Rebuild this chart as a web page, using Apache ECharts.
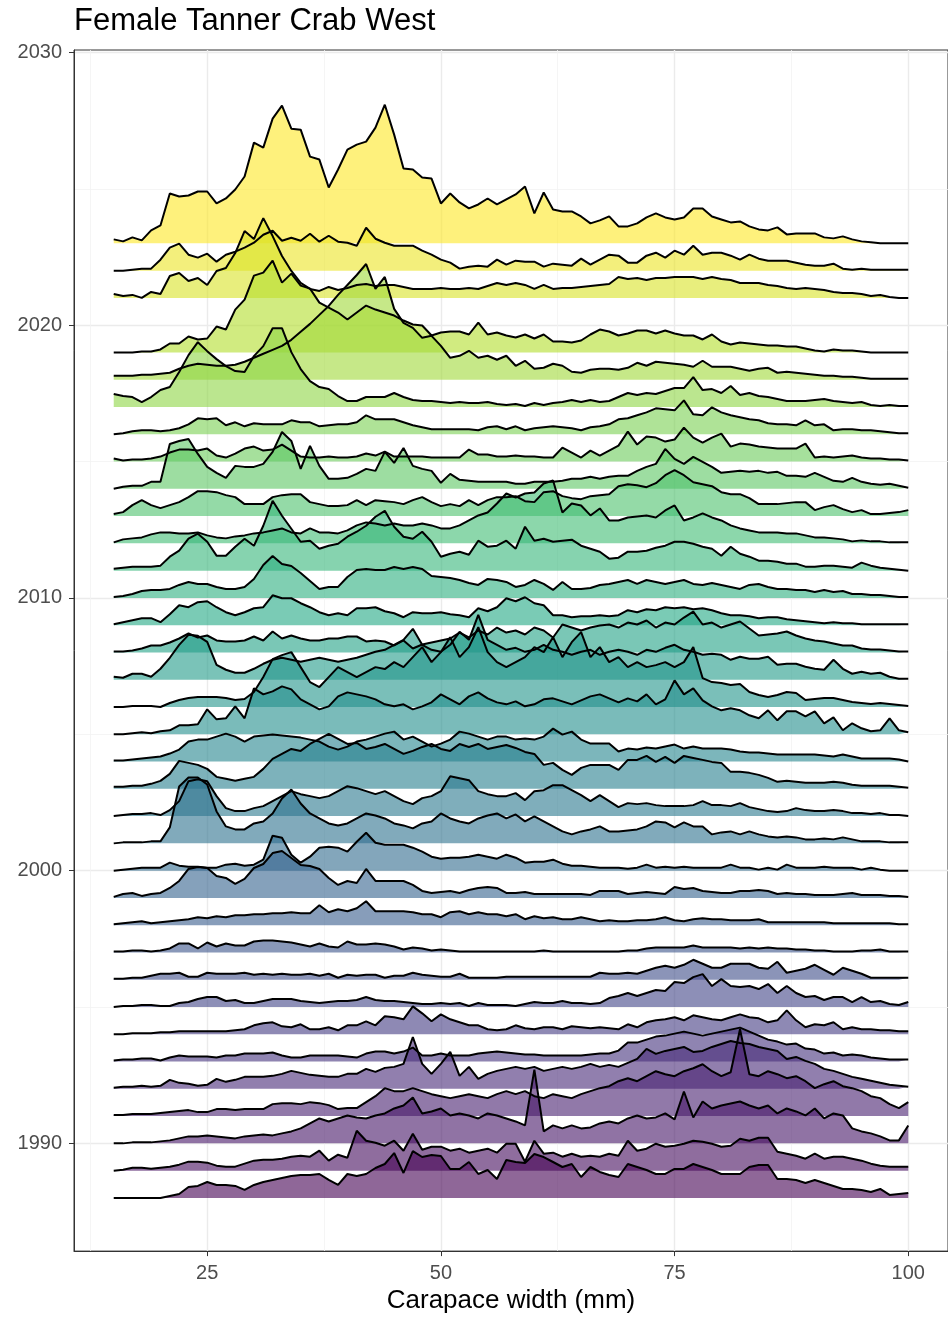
<!DOCTYPE html>
<html><head><meta charset="utf-8">
<script src="https://cdn.jsdelivr.net/npm/echarts@6/dist/echarts.min.js"></script>
<style>html,body{margin:0;padding:0;background:#fff}#c{width:948px;height:1319px}</style>
</head><body><div id="c"></div>
<script>
// Carapace width bins (mm)
const widths = [15,16,17,18,19,20,21,22,23,24,25,26,27,28,29,30,31,32,33,34,35,36,37,38,39,40,41,42,43,44,45,46,47,48,49,50,51,52,53,54,55,56,57,58,59,60,61,62,63,64,65,66,67,68,69,70,71,72,73,74,75,76,77,78,79,80,81,82,83,84,85,86,87,88,89,90,91,92,93,94,95,96,97,98,99,100];
const xTicks = [25,50,75,100];
const xMinor = [12.5,37.5,62.5,87.5];
const yTicks = [1990,2000,2010,2020,2030];
const yMinor = [1995,2005,2015,2025];

// Relative density heights per survey year (one value per 1 mm bin)
const h2023 = [4,2,6,3,13,18,50,47,48,52, 52,40,45,54,67,101,96,125,138,115, 114,87,84,56,74,94,99,102,116,139, 109,75,74,66,65,40,50,41,35,39, 45,39,44,49,57,30,51,34,32,32, 27,20,23,27,17,17,20,26,30,26, 24,26,35,35,27,24,21,22,17,14, 13,16,9,10,10,10,6,5,7,4, 2,1,0,0,0,0];
const h2022 = [0,0,1,2,2,11,23,27,16,13, 17,9,16,19,23,28,36,40,30,33, 30,37,29,35,29,28,25,43,32,28, 25,25,25,20,16,11,8,2,4,5, 4,11,6,10,9,9,4,7,6,5, 12,6,11,16,15,8,8,15,18,13, 20,16,25,16,18,18,15,11,16,12, 10,10,10,8,6,5,5,7,2,1, 2,1,1,1,1,1];
const h2021 = [4,2,3,0,6,4,22,25,17,20, 13,27,30,45,67,59,80,62,42,27, 15,9,7,11,8,10,13,14,12,13, 13,11,9,9,9,10,9,9,10,9, 12,15,13,15,13,9,13,9,10,10, 11,12,13,14,21,19,20,18,20,20, 21,21,21,19,21,19,18,15,15,15, 13,12,10,9,10,9,8,6,5,5, 4,2,3,1,0,0];
const h2019 = [0,0,0,1,1,3,9,9,16,13, 14,26,23,43,53,77,80,92,70,79, 67,64,50,45,40,33,40,47,43,40, 37,32,28,27,17,20,21,21,18,30, 18,20,17,15,18,14,18,11,11,10, 12,18,23,21,17,19,22,22,19,22, 19,17,17,13,18,11,8,10,9,8, 7,7,6,6,4,2,1,3,2,2, 1,0,0,0,0,0];
const h2018 = [4,4,4,5,5,6,7,11,14,16, 15,14,14,15,18,22,26,30,34,40, 48,56,65,74,85,95,105,116,91,103, 71,57,52,42,44,34,22,24,29,22, 24,20,24,14,19,11,12,16,14,8, 7,10,11,11,10,12,17,14,18,17, 16,15,13,19,13,13,13,11,9,11, 12,7,8,7,6,5,4,4,3,3, 2,1,1,1,1,1];
const h2017 = [13,11,10,5,10,17,20,35,52,65, 56,48,41,36,35,51,61,79,79,55, 38,26,20,18,11,6,6,10,10,10, 14,10,7,6,6,5,4,5,4,4, 5,3,2,3,1,4,2,4,5,7, 5,7,5,6,10,14,12,14,13,16, 19,19,30,17,18,14,21,12,14,11, 10,8,6,6,6,7,8,6,5,4, 5,2,1,2,1,1];
const h2016 = [0,1,3,4,4,3,4,6,10,16, 15,16,9,12,8,11,10,10,10,14, 12,12,8,9,10,10,12,19,15,15, 15,12,9,7,5,5,5,5,5,4, 7,8,5,8,4,6,7,8,7,6, 4,7,8,10,15,16,19,22,26,25, 24,34,20,19,27,22,19,17,15,14, 11,10,10,9,14,9,10,4,5,5, 4,4,3,2,1,1];
const h2015 = [3,1,2,2,3,5,9,12,12,11, 13,6,4,8,13,15,11,12,17,11, 5,4,4,5,4,4,5,8,6,10, 5,5,5,5,4,4,4,4,12,7, 7,5,5,6,5,5,4,4,14,9, 4,11,6,11,16,30,17,25,24,20, 22,34,24,19,24,28,15,18,17,15, 14,13,13,13,18,4,5,4,5,6, 4,3,3,2,2,1];
const h2014 = [0,2,3,3,7,7,45,48,50,35, 22,16,11,23,22,22,25,37,57,48, 20,43,23,10,10,11,15,20,18,37, 26,41,23,20,18,6,15,9,8,7, 7,7,7,5,5,7,7,7,8,10, 10,12,10,12,13,13,18,22,25,40, 30,25,32,27,22,16,17,18,17,18, 16,17,13,13,12,16,12,8,7,11, 7,5,4,5,3,1];
const h2013 = [2,4,11,16,11,8,11,14,19,25, 25,24,21,19,12,12,12,19,21,22, 22,14,12,10,10,11,16,11,16,15, 14,12,16,19,14,10,12,10,16,11, 16,19,19,20,15,14,24,25,20,18, 17,20,21,22,30,32,31,29,33,41, 46,41,34,32,30,24,22,22,18,12, 12,12,13,14,14,6,9,11,7,4, 6,2,2,3,4,6];
const h2012 = [1,4,5,6,9,11,11,10,10,11, 8,6,5,7,8,10,11,13,15,11, 10,15,11,11,10,13,18,21,20,18, 20,18,18,20,18,15,15,18,23,28, 31,40,50,46,50,51,60,63,31,40, 38,28,35,23,23,26,27,28,26,33, 38,23,26,30,26,23,18,15,13,11, 11,11,10,10,8,6,6,5,4,2, 3,2,2,1,1,1];
const h2011 = [2,3,4,4,4,5,14,20,32,37, 29,15,15,24,32,25,45,70,55,42, 29,30,22,25,27,34,39,45,54,60, 44,34,32,39,29,14,17,19,16,30, 24,25,30,22,44,30,32,29,30,31, 25,22,19,12,13,19,19,20,23,25, 29,29,27,24,22,15,24,17,14,10, 10,9,7,7,4,4,5,5,4,3, 8,5,3,2,1,0];
const h2010 = [1,2,4,7,8,8,9,13,16,14, 14,11,9,9,11,19,33,42,34,32, 25,17,9,11,11,21,28,29,28,28, 31,29,31,29,22,21,20,18,15,13, 19,18,16,11,13,18,14,8,16,9, 9,10,13,14,16,18,14,18,16,14, 16,18,14,13,15,13,11,9,13,14, 11,9,9,8,8,6,8,6,7,4, 4,3,3,2,1,1];
const h2009 = [1,3,5,7,7,3,11,20,18,23, 24,18,13,10,13,17,18,30,27,27, 22,18,13,10,12,10,17,17,18,14, 12,8,13,12,12,13,11,10,8,17, 14,18,27,24,28,22,20,10,10,8, 9,9,10,9,10,15,13,16,15,18, 17,18,16,17,15,12,10,10,9,7, 8,8,6,5,4,3,2,3,2,2, 1,1,1,1,1,1];
const h2008 = [1,1,2,4,7,7,10,14,19,15, 17,12,11,11,12,16,12,21,14,17, 14,12,12,14,14,16,16,11,12,11, 7,12,4,8,10,12,14,20,15,22, 18,25,20,22,18,25,22,15,28,25, 22,25,27,28,25,30,28,32,25,30, 28,35,41,28,30,25,28,31,24,17, 18,19,21,17,14,12,11,9,7,7, 4,3,3,2,1,1];
const h2007 = [3,2,6,6,3,11,22,35,45,44, 38,15,10,7,7,11,16,20,22,20, 18,20,22,20,18,20,22,25,28,30, 35,40,51,35,30,28,35,48,40,65, 40,35,30,32,28,30,35,30,28,25, 28,30,25,28,30,28,25,30,28,32, 35,30,28,25,26,25,20,23,21,21, 23,15,16,16,13,11,10,20,11,6, 8,6,7,3,1,1];
const h2006 = [0,0,1,1,1,0,4,7,9,10, 10,10,9,7,8,15,30,48,52,55, 40,25,20,30,40,35,30,35,40,38, 45,40,50,60,45,55,70,50,60,80, 55,45,40,45,50,60,55,70,50,65, 75,50,60,45,50,40,45,40,42,45, 40,45,60,29,25,24,22,23,15,12, 10,12,15,14,7,8,9,9,7,5, 4,3,4,3,2,1];
const h2005 = [0,0,1,2,1,3,4,9,9,10, 25,15,16,28,16,46,40,43,48,45, 35,30,25,28,38,42,40,38,35,30, 28,30,25,28,32,40,35,30,38,42, 36,32,30,33,28,30,35,36,33,30, 34,38,40,36,32,36,33,40,30,35, 54,40,46,34,28,24,26,24,19,16, 24,14,23,23,18,23,11,17,4,11, 6,3,4,16,4,2];
const h2004 = [1,1,2,3,4,5,8,12,20,22, 22,25,28,25,20,25,26,27,26,25, 24,22,20,15,12,15,20,22,25,28, 30,22,25,20,15,18,22,30,28,25, 22,25,25,22,23,22,25,33,27,30, 22,18,18,18,10,13,12,14,13,15, 17,13,15,13,13,13,12,10,9,9, 8,7,7,7,7,7,6,5,7,5, 3,3,3,3,2,0];
const h2003 = [2,2,3,3,5,8,15,28,26,24, 20,12,10,8,10,12,20,30,35,40, 38,45,50,55,50,45,46,40,42,45, 40,35,38,42,45,40,38,45,42,45, 40,42,44,41,37,35,24,26,19,14, 21,24,24,24,19,29,29,33,27,32, 26,33,31,29,27,26,17,17,16,14, 11,7,8,7,6,6,6,7,6,4, 3,3,3,3,2,1];
const h2002 = [0,1,2,2,3,1,6,15,35,37, 35,20,8,5,5,8,10,15,20,25, 22,20,18,20,25,30,28,25,22,25, 20,15,12,18,20,25,40,38,36,25, 22,20,20,23,16,25,26,31,31,26, 21,15,21,15,9,13,12,13,11,10, 10,10,11,15,11,11,10,13,9,7, 5,4,5,8,6,5,5,6,5,3, 3,2,3,1,1,0];
const h2001 = [0,1,1,1,2,2,16,57,66,66, 59,32,17,14,14,20,22,30,45,54, 40,30,25,20,18,20,25,30,28,25, 20,18,15,20,22,30,25,22,20,25, 28,30,25,29,22,27,22,17,12,9, 12,14,17,12,12,13,14,17,22,21, 16,21,17,17,9,11,12,9,12,9, 7,6,7,6,4,4,5,4,6,4, 2,2,2,1,1,1];
const h2000 = [0,1,2,3,3,3,8,5,4,4, 3,3,6,7,5,6,11,35,33,16, 8,14,23,24,23,19,29,38,28,26, 26,26,23,19,14,12,13,13,14,16, 14,12,16,13,8,9,9,11,7,5, 5,4,3,3,3,2,3,6,3,4, 3,4,3,3,3,3,6,3,3,1, 3,1,6,3,3,3,4,3,3,3, 1,3,1,0,0,0];
const h1999 = [1,4,5,2,4,5,10,17,29,31, 30,22,20,14,19,30,34,45,47,40, 33,32,29,20,13,17,15,29,17,17, 17,17,13,7,5,6,7,5,8,10, 11,10,5,5,6,4,4,4,4,4, 4,3,7,7,7,4,5,6,5,4, 11,9,10,7,6,5,5,7,7,8, 7,4,5,4,4,3,3,3,4,5, 3,3,3,2,2,1];
const h1998 = [1,2,3,4,2,3,4,5,6,8, 7,9,8,10,10,11,11,12,12,13, 12,12,20,13,16,14,17,24,14,14, 14,14,13,11,11,8,13,14,11,13, 11,11,9,11,6,9,7,8,6,6, 8,6,4,5,4,4,5,5,6,8, 5,4,6,7,6,6,5,5,5,6, 3,3,3,3,3,3,3,2,2,2, 2,2,2,2,1,1];
const h1997 = [1,1,2,2,1,2,4,9,9,4, 10,6,9,7,7,11,12,12,11,10, 8,6,9,6,5,11,8,8,9,8, 6,3,5,4,2,3,2,1,1,1, 1,1,1,1,1,1,2,1,1,1, 1,1,1,1,1,2,2,4,5,5, 5,5,7,5,5,5,5,4,5,4, 5,4,4,3,3,2,2,1,1,1, 2,2,3,1,1,1];
const h1996 = [1,1,2,2,4,6,6,7,3,3, 7,6,6,6,7,5,6,5,6,5, 5,6,4,6,2,5,4,5,5,2, 4,4,7,5,4,3,3,6,2,2, 2,2,3,3,3,3,3,3,3,3, 3,3,7,6,6,7,6,9,12,14, 12,15,20,16,12,12,16,16,16,12, 11,18,7,9,11,15,10,5,12,9, 6,2,2,2,2,2];
const h1995 = [0,1,1,2,2,1,1,4,5,8, 10,10,6,7,4,4,6,8,8,8, 6,5,4,5,6,6,7,10,7,6, 6,5,4,3,3,4,3,4,1,4, 2,2,2,1,3,5,4,4,6,4, 4,3,4,9,11,14,11,14,17,16, 25,24,30,33,21,28,21,20,21,18, 23,14,21,14,10,11,7,10,10,5, 10,5,6,3,2,5];
const h1994 = [0,0,1,1,1,2,2,3,3,3, 3,3,3,4,5,9,11,12,8,7, 10,5,5,7,4,9,9,13,9,18, 17,15,28,21,13,20,15,12,9,9, 5,4,5,9,6,5,7,7,5,8, 7,6,7,6,5,10,7,12,14,15, 17,14,19,17,15,14,17,20,17,16, 12,14,24,14,7,10,9,12,5,7, 5,5,4,4,3,3];
const h1993 = [1,2,2,3,3,1,4,6,5,5, 5,4,6,6,8,8,8,9,6,4, 4,6,6,6,6,5,4,8,10,10, 8,10,14,6,6,8,6,6,6,8, 9,10,9,8,7,7,6,6,6,6, 6,7,8,8,11,19,19,22,25,26, 28,30,28,26,28,30,32,34,30,26, 22,20,17,18,13,12,8,9,6,7, 6,4,3,2,2,2];
const h1992 = [1,2,2,3,2,3,9,6,5,3, 4,10,7,9,12,12,12,13,15,18, 16,14,13,12,12,15,15,20,17,21, 22,25,52,25,15,25,37,13,22,10, 15,18,20,22,20,22,18,20,22,20, 22,25,22,24,22,26,30,40,35,38, 40,42,37,38,42,45,48,46,45,42, 40,38,30,32,28,25,20,18,15,12, 10,8,6,4,3,2];
const h1991 = [1,1,2,2,2,3,4,5,6,4, 4,7,7,6,7,7,7,12,13,13, 12,14,13,11,7,8,8,14,20,28, 25,25,28,25,22,20,18,20,22,20, 18,22,25,22,25,20,18,22,20,18, 22,25,28,30,35,38,35,40,45,42, 40,45,48,52,45,40,44,87,42,40, 45,42,38,40,35,28,32,35,30,28, 25,20,18,12,8,14];
const h1990 = [0,0,1,1,1,2,3,5,7,7, 8,7,6,5,7,8,9,8,10,12, 15,20,25,22,25,28,26,25,28,30, 35,38,46,30,32,35,28,30,28,25, 30,28,25,22,18,74,12,18,15,18, 15,16,20,22,20,25,28,25,26,30, 24,52,26,42,35,38,40,42,38,35, 38,30,35,32,28,35,25,30,28,15, 12,10,7,3,3,18];
const h1989 = [0,1,3,3,2,3,4,6,9,9, 8,5,4,4,7,10,11,11,12,14, 15,14,20,10,16,13,40,30,28,25, 30,20,37,21,24,24,20,22,18,20, 22,18,27,27,9,30,17,18,14,17, 14,15,14,17,15,30,20,22,27,24, 25,27,30,29,27,24,25,32,30,33, 33,19,17,15,12,17,12,14,14,12, 10,7,5,4,4,4];
const h1988 = [0,0,0,0,0,0,2,4,11,12, 16,13,13,12,8,13,16,18,20,22, 23,23,24,18,13,24,22,24,30,34, 45,25,47,41,43,42,29,29,36,24, 28,19,38,36,35,44,41,36,31,34, 21,31,26,23,21,34,31,28,24,24, 29,29,34,31,28,24,24,24,31,33, 33,19,19,18,15,18,15,12,9,9, 8,6,9,3,4,5];

// draw order: top ridge first, lower ridges in front
const ridges = [
  [2023,h2023],[2022,h2022],[2021,h2021],[2019,h2019],[2018,h2018],[2017,h2017],
  [2016,h2016],[2015,h2015],[2014,h2014],[2013,h2013],[2012,h2012],[2011,h2011],
  [2010,h2010],[2009,h2009],[2008,h2008],[2007,h2007],[2006,h2006],[2005,h2005],
  [2004,h2004],[2003,h2003],[2002,h2002],[2001,h2001],[2000,h2000],[1999,h1999],
  [1998,h1998],[1997,h1997],[1996,h1996],[1995,h1995],[1994,h1994],[1993,h1993],
  [1992,h1992],[1991,h1991],[1990,h1990],[1989,h1989],[1988,h1988]
];
const ridgeScale = 1/27.34;   // density units -> year units
const yearMin = 1988, yearMax = 2023;

const viridis = ['#440154','#482475','#414487','#355f8d','#2a788e','#21918c','#22a884','#44bf70','#7ad151','#bddf26','#fde725'];
function hex2rgb(h){return [parseInt(h.substr(1,2),16),parseInt(h.substr(3,2),16),parseInt(h.substr(5,2),16)];}
function vcol(t){
  const p = t*(viridis.length-1); const i = Math.min(Math.floor(p), viridis.length-2); const f = p-i;
  const a = hex2rgb(viridis[i]), b = hex2rgb(viridis[i+1]);
  return 'rgb(' + [0,1,2].map(k=>Math.round(a[k]+(b[k]-a[k])*f)).join(',') + ')';
}

const series = ridges.map(([yr, hs]) => ({
  type: 'line',
  name: String(yr),
  data: widths.map((w,i) => [w, yr + hs[i]*ridgeScale]),
  symbol: 'none',
  smooth: false,
  silent: true,
  lineStyle: {color: '#000', width: 2},
  areaStyle: {origin: yr, color: vcol((yr-yearMin)/(yearMax-yearMin)), opacity: 0.6},
  clip: true
}));

const FONT = '"Liberation Sans", Arial, Helvetica, sans-serif';
const plain = v => String(v);
const chart = echarts.init(document.getElementById('c'), null, {renderer: 'canvas'});
chart.setOption({
  animation: false,
  backgroundColor: '#fff',
  title: {text: 'Female Tanner Crab West', left: 74, top: 6, padding: 0,
    textStyle: {fontFamily: FONT, fontSize: 31, fontWeight: 'normal', color: '#000'}},
  grid: {left: 74, top: 50, width: 878, height: 1204, show: true, borderColor: '#333', borderWidth: 1, backgroundColor: 'transparent'},
  xAxis: [
    {type: 'value', min: 10.75, max: 104.25, name: 'Carapace width (mm)', nameLocation: 'middle', nameGap: 33,
     nameTextStyle: {fontFamily: FONT, fontSize: 26, color: '#000'},
     axisLine: {show: true, lineStyle: {color: '#333', width: 1}},
     axisTick: {show: true, length: 5, customValues: xTicks, lineStyle: {color: '#333', width: 1}},
     axisLabel: {customValues: xTicks, formatter: plain, margin: 12, fontFamily: FONT, fontSize: 20, color: '#4d4d4d'},
     splitLine: {show: true, lineStyle: {color: '#ebebeb', width: 1.4}}},
    {type: 'value', min: 10.75, max: 104.25, position: 'bottom',
     axisLine: {show: false}, axisTick: {show: false, customValues: xMinor}, axisLabel: {show: false, customValues: xMinor},
     splitLine: {show: true, lineStyle: {color: '#f3f3f3', width: 0.8}}}
  ],
  yAxis: [
    {type: 'value', min: 1986.05, max: 2030.09,
     axisLine: {show: true, lineStyle: {color: '#333', width: 1}},
     axisTick: {show: true, length: 5, customValues: yTicks, lineStyle: {color: '#333', width: 1}},
     axisLabel: {customValues: yTicks, formatter: plain, margin: 12, fontFamily: FONT, fontSize: 20, color: '#4d4d4d'},
     splitLine: {show: true, lineStyle: {color: '#ebebeb', width: 1.4}}},
    {type: 'value', min: 1986.05, max: 2030.09, position: 'left',
     axisLine: {show: false}, axisTick: {show: false, customValues: yMinor}, axisLabel: {show: false, customValues: yMinor},
     splitLine: {show: true, lineStyle: {color: '#f3f3f3', width: 0.8}}}
  ],
  series: series
});
</script></body></html>
